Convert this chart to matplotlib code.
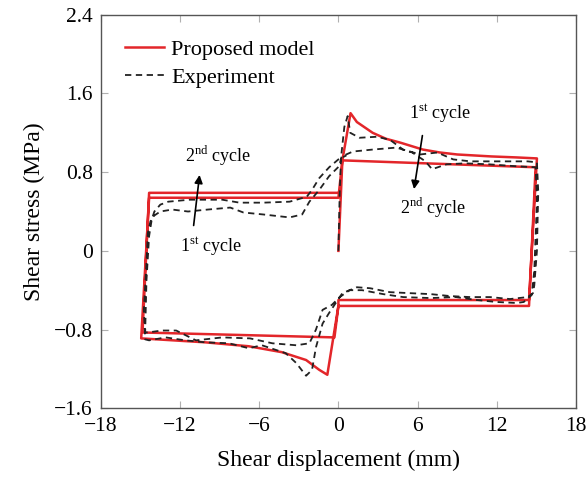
import matplotlib
matplotlib.use("Agg")
import matplotlib.pyplot as plt

plt.rcParams['font.family'] = ['Liberation Serif', 'DejaVu Serif']
plt.rcParams['mathtext.fontset'] = 'custom'
plt.rcParams['mathtext.rm'] = 'Liberation Serif'

# proposed model (red)
model_x = [0, 0.3, 0.92, 1.4, 2.6, 3.6, 4.7, 6.4, 7.7, 9.0, 11.6, 13.5, 15.05,
           14.45, 0, 0, -0.84, -1.45, -2.45, -4.3, -6.8, -10.1, -14.95,
           -14.35, 0, 0.3,
           14.95, 14.45, 0, -0.3, -14.85, -14.35, 0]
model_y = [0, 0.92, 1.40, 1.31, 1.20, 1.14, 1.10, 1.03, 1.00, 0.98, 0.96, 0.95, 0.94,
           -0.50, -0.50, -0.56, -1.26, -1.21, -1.11, -1.03, -0.97, -0.93, -0.89,
           0.54, 0.54, 0.92,
           0.85, -0.56, -0.56, -0.88, -0.83, 0.59, 0.59]

# experiment (dashed), two cycles
exp_x = [0, 0.1, 0.2, 0.45, 0.7, 0.9, 1.6, 2.9, 3.9, 4.9, 6.2, 7.5, 8.7, 10.0, 11.5,
         13.0, 14.35, 15.05,
         15.15, 15.05, 14.85, 14.75, 14.35,
         13.0, 11.5, 10.0, 8.5, 7.0, 5.4, 3.9, 2.4, 1.4, 0.3, -0.15, -0.7,
         -1.2, -1.7, -2.0, -2.45, -3.2, -4.0, -5.8, -6.8, -8.3, -10.1, -11.6, -13.1,
         -14.35, -14.65,
         -14.75, -14.55, -14.45, -14.25,
         -13.95, -13.5, -12.6, -11.4, -9.9, -8.2, -7.2, -5.7, -3.7, -2.75, -2.2,
         -1.45, -0.7, 0.05, 0.25,
         1.1, 2.6, 4.4, 5.6, 6.6, 7.1, 8.2, 9.6, 11.4, 13.5, 14.95,
         15.05, 14.85, 14.65, 14.05,
         13.5, 12.0, 10.5, 8.9, 7.0, 4.9, 3.4, 1.8, 0.85, 0.1, -0.5,
         -1.2, -1.7, -2.2, -3.2, -5.0, -6.7, -8.8, -10.8, -12.3, -13.4, -14.45,
         -14.65, -14.55, -14.35, -14.15, -13.95,
         -13.5, -12.9, -11.3, -8.8, -7.5, -5.7, -3.7, -2.4, -2.0, -1.45, -0.7,
         0, 0.6]
exp_y = [0, 0.60, 0.95, 1.26, 1.37, 1.20, 1.15, 1.16, 1.13, 1.03, 0.98, 1.00, 0.93, 0.91,
         0.91, 0.91, 0.91, 0.90,
         0.60, 0.0, -0.35, -0.43, -0.47,
         -0.49, -0.47, -0.47, -0.46, -0.44, -0.43, -0.42, -0.38, -0.37, -0.43, -0.52, -0.63,
         -0.74, -0.98, -1.21, -1.27, -1.14, -1.04, -0.96, -0.99, -0.94, -0.93, -0.91,
         -0.88, -0.91, -0.90,
         -0.60, -0.12, 0.18, 0.30,
         0.36, 0.40, 0.42, 0.40, 0.42, 0.44, 0.39, 0.37, 0.34, 0.37, 0.50,
         0.62, 0.76, 0.86, 0.96,
         1.01, 1.03, 1.05, 1.00, 0.91, 0.83, 0.88, 0.89, 0.88, 0.86, 0.85,
         0.50, -0.20, -0.45, -0.52,
         -0.53, -0.52, -0.50, -0.47, -0.48, -0.47, -0.44, -0.40, -0.40, -0.47, -0.55,
         -0.60, -0.80, -0.94, -0.96, -0.94, -0.89, -0.88, -0.91, -0.81, -0.81, -0.83,
         -0.83, -0.30, 0.15, 0.32, 0.40,
         0.47, 0.50, 0.52, 0.52, 0.49, 0.49, 0.50, 0.55, 0.62, 0.74, 0.85,
         0.93, 0.97]

xticks = [-18, -12, -6, 0, 6, 12, 18]
yticks = [-1.6, -0.8, 0, 0.8, 1.6, 2.4]


def fmt(v):
    if v == 0:
        return '0'
    s = f'{abs(v):g}' if isinstance(v, int) else f'{abs(v):.1f}'
    return ('\u2212' + s) if v < 0 else s


fig = plt.figure(figsize=(5.87, 4.78), dpi=100)
ax = fig.add_axes([0.172, 0.146, 0.809, 0.823])

ax.plot(model_x, model_y, color='#e3262a', lw=1.8, label='Proposed model', zorder=2)
ax.plot(exp_x, exp_y, color='#222222', lw=1.3, dashes=(3.5, 2.5),
        label='Experiment', zorder=3)

# annotations
ax.text(7.7, 1.40, r'1$^{\mathrm{st}}$ cycle', fontsize=13, ha='center', va='center')
ax.annotate('', xy=(5.7, 0.60), xytext=(6.4, 1.2),
            arrowprops=dict(arrowstyle='-|>', color='black', lw=1.2, mutation_scale=12))
ax.text(7.2, 0.44, r'2$^{\mathrm{nd}}$ cycle', fontsize=13, ha='center', va='center')

ax.text(-9.1, 0.96, r'2$^{\mathrm{nd}}$ cycle', fontsize=13, ha='center', va='center')
ax.annotate('', xy=(-10.5, 0.80), xytext=(-11.0, 0.23),
            arrowprops=dict(arrowstyle='-|>', color='black', lw=1.2, mutation_scale=12))
ax.text(-9.65, 0.04, r'1$^{\mathrm{st}}$ cycle', fontsize=13, ha='center', va='center')

ax.set_xlim(-18, 18)
ax.set_ylim(-1.6, 2.4)
ax.set_xticks(xticks)
ax.set_xticklabels([fmt(v) for v in xticks])
ax.set_yticks(yticks)
ax.set_yticklabels([fmt(v) for v in yticks])
ax.tick_params(direction='in', top=True, right=True, length=5, color='#b0b0b0',
               labelsize=15.5, pad=6)
for s in ax.spines.values():
    s.set_color('#555555')
    s.set_linewidth(1.0)

ax.set_xlabel('Shear displacement (mm)', fontsize=17, labelpad=10)
ax.set_ylabel('Shear stress (MPa)', fontsize=17, labelpad=6)

ax.legend(loc='upper left', frameon=False, fontsize=16, handlelength=1.75,
          borderaxespad=0.7, labelspacing=0.35, handletextpad=0.3)

fig.savefig('out.png', dpi=100)
